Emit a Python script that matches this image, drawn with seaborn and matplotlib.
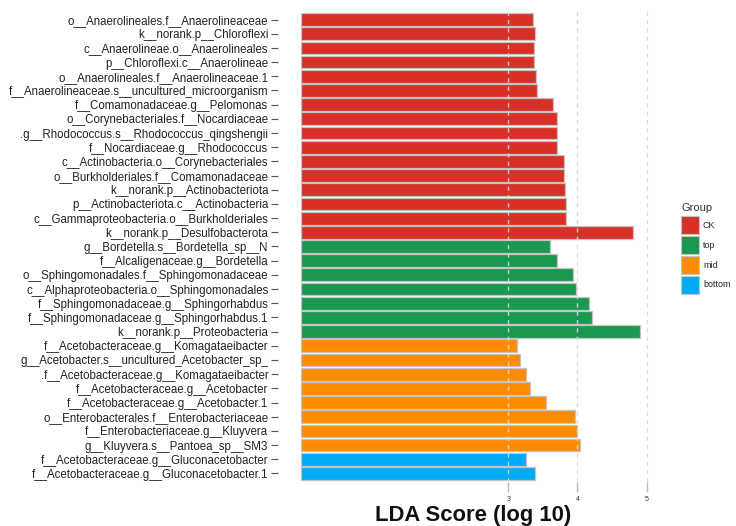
import matplotlib
matplotlib.use("Agg")
import matplotlib.pyplot as plt
from matplotlib.patches import Patch
import pandas as pd
import seaborn as sns

# LEfSe discriminant features per group with their LDA scores (log10)
ck_features = [
    "o__Anaerolineales.f__Anaerolineaceae",
    "k__norank.p__Chloroflexi",
    "c__Anaerolineae.o__Anaerolineales",
    "p__Chloroflexi.c__Anaerolineae",
    "o__Anaerolineales.f__Anaerolineaceae.1",
    "f__Anaerolineaceae.s__uncultured_microorganism",
    "f__Comamonadaceae.g__Pelomonas",
    "o__Corynebacteriales.f__Nocardiaceae",
    ".g__Rhodococcus.s__Rhodococcus_qingshengii",
    "f__Nocardiaceae.g__Rhodococcus",
    "c__Actinobacteria.o__Corynebacteriales",
    "o__Burkholderiales.f__Comamonadaceae",
    "k__norank.p__Actinobacteriota",
    "p__Actinobacteriota.c__Actinobacteria",
    "c__Gammaproteobacteria.o__Burkholderiales",
    "k__norank.p__Desulfobacterota",
]
ck_scores = [3.36, 3.39, 3.37, 3.37, 3.40, 3.42, 3.64, 3.71,
             3.71, 3.71, 3.80, 3.81, 3.82, 3.83, 3.83, 4.81]

top_features = [
    "g__Bordetella.s__Bordetella_sp__N",
    "f__Alcaligenaceae.g__Bordetella",
    "o__Sphingomonadales.f__Sphingomonadaceae",
    "c__Alphaproteobacteria.o__Sphingomonadales",
    "f__Sphingomonadaceae.g__Sphingorhabdus",
    "f__Sphingomonadaceae.g__Sphingorhabdus.1",
    "k__norank.p__Proteobacteria",
]
top_scores = [3.60, 3.71, 3.94, 3.98, 4.17, 4.21, 4.90]

mid_features = [
    "f__Acetobacteraceae.g__Komagataeibacter",
    "g__Acetobacter.s__uncultured_Acetobacter_sp_",
    ".f__Acetobacteraceae.g__Komagataeibacter",
    "f__Acetobacteraceae.g__Acetobacter",
    "f__Acetobacteraceae.g__Acetobacter.1",
    "o__Enterobacterales.f__Enterobacteriaceae",
    "f__Enterobacteriaceae.g__Kluyvera",
    "g__Kluyvera.s__Pantoea_sp__SM3",
]
mid_scores = [3.13, 3.17, 3.25, 3.32, 3.55, 3.97, 4.00, 4.03]

bottom_features = [
    "f__Acetobacteraceae.g__Gluconacetobacter",
    "f__Acetobacteraceae.g__Gluconacetobacter.1",
]
bottom_scores = [3.25, 3.38]

group_names = ["CK", "top", "mid", "bottom"]
group_colors = ["#D73027", "#1A9850", "#FF8C00", "#00AAF5"]
x_breaks = [3, 4, 5]

frames = []
for name, feats, scores in zip(
    group_names,
    [ck_features, top_features, mid_features, bottom_features],
    [ck_scores, top_scores, mid_scores, bottom_scores],
):
    frames.append(pd.DataFrame({"feature": feats, "lda": scores, "group": name}))
df = pd.concat(frames, ignore_index=True)

sns.set_theme(style="white")
plt.rcParams["font.family"] = ["Liberation Sans", "DejaVu Sans"]

fig = plt.figure(figsize=(7.36, 5.26), dpi=100)
ax = fig.add_axes([278 / 736, 1 - 482 / 526, (657 - 278) / 736, (482 - 11) / 526])

palette = dict(zip(group_names, group_colors))
sns.barplot(
    data=df, y="feature", x="lda", hue="group", hue_order=group_names,
    palette=palette, dodge=False, width=0.9, edgecolor="#c4c4c4",
    linewidth=0.9, saturation=1, legend=False, ax=ax,
)

n = len(df)
ax.set_xlim(-0.33, 5.15)
ax.set_ylim(n - 0.4, -0.6)

# dashed reference lines drawn over the bars
for b in x_breaks:
    ax.axvline(b, color="#d9d9d9", linestyle=(0, (3, 3)), linewidth=1.0,
               alpha=0.9, zorder=5)

ax.set_xticks(x_breaks)
ax.set_xticklabels([str(b) for b in x_breaks], fontsize=5, color="#333333")
ax.tick_params(axis="x", length=7, width=1.0, color="#bbbbbb", pad=3,
               direction="out", bottom=True)
ax.tick_params(axis="y", length=5, width=0.8, color="#555555", pad=2,
               labelsize=8.3, labelcolor="#222222", left=True)

for s in ax.spines.values():
    s.set_visible(False)

ax.set_ylabel("")
ax.set_xlabel("LDA Score (log 10)", fontsize=15.8, fontweight="bold",
              color="#111111")
ax.xaxis.set_label_coords((473 - 278) / (657 - 278), -(516 - 482) / (482 - 11))
ax.xaxis.label.set_verticalalignment("center")

handles = [Patch(facecolor=c, edgecolor="#c4c4c4", linewidth=0.8)
           for c in group_colors]
leg = fig.legend(
    handles, group_names, title="Group", loc="upper left",
    bbox_to_anchor=(675 / 736, 1 - 197 / 526), frameon=False,
    fontsize=6.5, title_fontsize=8, handlelength=2.0, handleheight=2.7,
    labelspacing=0.2, handletextpad=0.4, borderpad=0.2,
)
leg._legend_box.align = "left"
leg._legend_box.sep = 2
leg.get_title().set_color("#333333")

fig.savefig("out.png", dpi=100)
